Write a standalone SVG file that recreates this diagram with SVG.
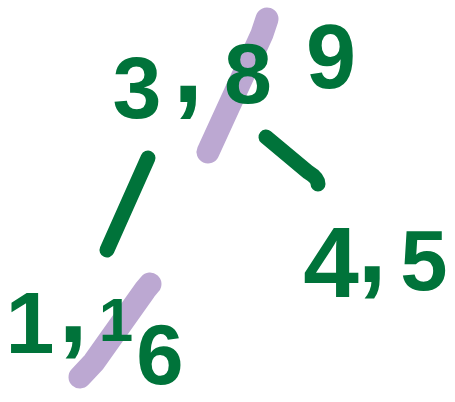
<svg xmlns="http://www.w3.org/2000/svg" width="455" height="402" viewBox="0 0 455 402">
<style>
.t{font-family:"Liberation Sans","DejaVu Sans",sans-serif;font-weight:bold;fill:#00733a;text-anchor:middle}
.c{stroke:#00733a;stroke-width:15;stroke-linecap:round;fill:none}
.s{stroke:#bca8d2;stroke-width:23;stroke-linecap:round;fill:none}
</style>
<rect width="455" height="402" fill="#fff"/>
<g id="connectors">
<path class="c" d="M148,158 L107,250"/>
<path class="c" d="M266,137 L308,172 Q318,178 318,184"/>
</g>
<g id="root">
<path class="s" d="M267,19 L262,34 L208,152"/>
<text class="t" x="137" y="118" font-size="88">3</text>
<text class="t" x="188" y="102" font-size="110">,</text>
<text class="t" x="248" y="103" font-size="86">8</text>
<text class="t" x="331" y="88" font-size="90">9</text>
</g>
<g id="right">
<text class="t" x="331" y="297" font-size="100">4</text>
<text class="t" x="372" y="282" font-size="105">,</text>
<text class="t" x="424" y="290" font-size="85">5</text>
</g>
<g id="left">
<path class="s" d="M150,284 L145,290 L94,362 L80,377"/>
<text class="t" x="30" y="353" font-size="88">1</text>
<text class="t" x="73" y="342" font-size="105">,</text>
<text class="t" x="116" y="341" font-size="62">1</text>
<text class="t" x="160" y="384" font-size="85">6</text>
</g>
</svg>
